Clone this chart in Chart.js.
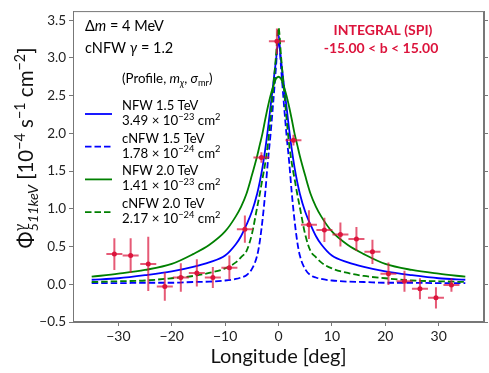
<!DOCTYPE html>
<html>
<head>
<meta charset="utf-8">
<script src="https://cdn.jsdelivr.net/npm/chart.js@4.4.1/dist/chart.umd.min.js"></script>
<style>
  html, body { margin: 0; padding: 0; background: #fff; }
  #wrap { width: 489px; height: 373px; }
</style>
</head>
<body>
<div id="wrap"><canvas id="chart" width="489" height="373"></canvas></div>
<script>
// INTEGRAL/SPI 511 keV longitude profile
const obsLon  = [-30.75, -27.7, -24.4, -21.3, -18.3, -15.3, -12.3, -9.2, -6.3, -3.2, -0.3, 2.8, 5.7, 8.6, 11.6, 14.6, 17.6, 20.6, 23.6, 26.5, 29.5, 32.4];
const obsFlux = [0.40, 0.38, 0.27, -0.03, 0.09, 0.15, 0.09, 0.22, 0.73, 1.68, 3.22, 1.91, 0.79, 0.72, 0.66, 0.60, 0.43, 0.14, 0.04, -0.06, -0.18, -0.01];
const obsErr  = [0.21, 0.23, 0.36, 0.19, 0.19, 0.18, 0.14, 0.16, 0.18, 0.07, 0.17, 0.07, 0.19, 0.16, 0.16, 0.16, 0.16, 0.15, 0.14, 0.14, 0.14, 0.09];
const binHalf = 1.5;

// model curves, sampled at modelLon
const modelLon = [-35, -30, -25, -20, -16, -13, -10, -8, -7, -6, -5, -4, -3.5, -3, -2.5, -2, -1.5, -1, -0.5, 0,
                  0.5, 1, 1.5, 2, 2.5, 3, 3.5, 4, 5, 6, 7, 8, 10, 13, 16, 20, 25, 30, 35];
const nfw15  = [0.06, 0.08, 0.12, 0.17, 0.23, 0.29, 0.38, 0.53, 0.64, 0.79, 0.96, 1.20, 1.36, 1.55, 1.78, 2.05, 2.35, 2.65, 2.95, 3.22,
                2.95, 2.65, 2.35, 2.05, 1.78, 1.55, 1.36, 1.20, 0.96, 0.79, 0.64, 0.53, 0.38, 0.29, 0.23, 0.17, 0.12, 0.08, 0.06];
const cnfw15 = [0.015, 0.015, 0.02, 0.02, 0.03, 0.035, 0.05, 0.07, 0.09, 0.12, 0.20, 0.38, 0.57, 0.85, 1.20, 1.62, 1.98, 2.40, 2.85, 3.30,
                2.85, 2.40, 1.98, 1.62, 1.20, 0.85, 0.57, 0.38, 0.20, 0.12, 0.09, 0.07, 0.05, 0.035, 0.03, 0.02, 0.02, 0.015, 0.015];
const nfw20  = [0.10, 0.14, 0.19, 0.27, 0.40, 0.52, 0.70, 0.90, 1.03, 1.20, 1.44, 1.70, 1.85, 2.00, 2.18, 2.35, 2.50, 2.62, 2.72, 2.75,
                2.72, 2.62, 2.50, 2.35, 2.18, 2.00, 1.85, 1.70, 1.44, 1.20, 1.03, 0.90, 0.70, 0.52, 0.40, 0.27, 0.19, 0.14, 0.10];
const cnfw20 = [0.03, 0.04, 0.05, 0.08, 0.11, 0.15, 0.21, 0.29, 0.36, 0.44, 0.66, 1.02, 1.20, 1.40, 1.60, 1.85, 2.20, 2.60, 3.00, 3.40,
                3.00, 2.60, 2.20, 1.85, 1.60, 1.40, 1.20, 1.02, 0.66, 0.44, 0.36, 0.29, 0.21, 0.15, 0.11, 0.08, 0.05, 0.04, 0.03];

const xTicks = [-30, -20, -10, 0, 10, 20, 30];
const yTicks = [-0.5, 0, 0.5, 1, 1.5, 2, 2.5, 3, 3.5];

const FAM = 'Lato, "DejaVu Sans", sans-serif';
const RED = '#dc143c';
const BLUE = '#0000ff';
const GREEN = '#008000';
const DASH = [6.5, 3];

const pts = (xs, ys) => xs.map((v, i) => ({ x: v, y: ys[i] }));
const minus = s => s.replace('-', '\u2212');

// draws text made of pieces: k = n (normal), i (italic), b (bold), sup/sub (+i for italic)
function drawRich(ctx, segs, x, y, size, align, color) {
  const fontFor = k => {
    const small = k.startsWith('sup') || k.startsWith('sub');
    const ital = k === 'i' || k.endsWith('i');
    const bold = k === 'b';
    return (ital ? 'italic ' : '') + (bold ? 'bold ' : '') + (small ? size * 0.7 : size) + 'px ' + FAM;
  };
  let w = 0, hold = 0;
  const pos = [];
  for (const s of segs) {
    ctx.font = fontFor(s.k);
    const sw = ctx.measureText(s.t).width;
    pos.push(w);
    if (s.keep) { hold = sw; } else { w += Math.max(sw, hold); hold = 0; }
  }
  let x0 = x;
  if (align === 'center') x0 = x - w / 2;
  if (align === 'right') x0 = x - w;
  ctx.fillStyle = color || '#000';
  ctx.textAlign = 'left';
  ctx.textBaseline = 'alphabetic';
  segs.forEach((s, i) => {
    ctx.font = fontFor(s.k);
    let dy = 0;
    if (s.k.startsWith('sup')) dy = -0.4 * size;
    if (s.k.startsWith('sub')) dy = 0.22 * size;
    ctx.fillText(s.t, x0 + pos[i], y + dy);
  });
}

const legendItems = [
  { color: BLUE,  dash: [],   l1: 'NFW 1.5 TeV',  m: '3.49', e: '\u221223' },
  { color: BLUE,  dash: DASH, l1: 'cNFW 1.5 TeV', m: '1.78', e: '\u221224' },
  { color: GREEN, dash: [],   l1: 'NFW 2.0 TeV',  m: '1.41', e: '\u221223' },
  { color: GREEN, dash: DASH, l1: 'cNFW 2.0 TeV', m: '2.17', e: '\u221224' }
];

const decorations = {
  id: 'decorations',
  beforeDatasetDraw(chart, args) {
    // error bars go under the data markers
    if (args.index !== 0) return;
    const { ctx, scales: { x, y } } = chart;
    ctx.save();
    ctx.strokeStyle = 'rgba(220,20,60,0.7)';
    ctx.lineWidth = 2;
    obsLon.forEach((lon, i) => {
      const px = x.getPixelForValue(lon);
      const py = y.getPixelForValue(obsFlux[i]);
      ctx.beginPath();
      ctx.moveTo(x.getPixelForValue(lon - binHalf), py);
      ctx.lineTo(x.getPixelForValue(lon + binHalf), py);
      ctx.moveTo(px, y.getPixelForValue(obsFlux[i] - obsErr[i]));
      ctx.lineTo(px, y.getPixelForValue(obsFlux[i] + obsErr[i]));
      ctx.stroke();
    });
    ctx.restore();
  },
  afterDraw(chart) {
    const { ctx, chartArea: a } = chart;
    ctx.save();
    // frame
    ctx.strokeStyle = '#777';
    ctx.lineWidth = 1;
    ctx.strokeRect(a.left + 0.5, a.top + 0.5, a.right - a.left - 1, a.bottom - a.top - 1);

    // axis titles
    drawRich(ctx, [{ t: 'Longitude [deg]', k: 'n' }], (a.left + a.right) / 2, 363, 20, 'center', '#111');
    ctx.save();
    ctx.translate(33, 148);
    ctx.rotate(-Math.PI / 2);
    drawRich(ctx, [
      { t: '\u03A6', k: 'n' },
      { t: '\u03B3', k: 'supi', keep: true },
      { t: '511keV', k: 'subi' },
      { t: ' [10', k: 'n' }, { t: '\u22124', k: 'sup' },
      { t: ' s', k: 'n' }, { t: '\u22121', k: 'sup' },
      { t: ' cm', k: 'n' }, { t: '\u22122', k: 'sup' },
      { t: ']', k: 'n' }
    ], 0, 0, 20.5, 'center', '#111');
    ctx.restore();

    // annotations
    drawRich(ctx, [{ t: '\u0394', k: 'n' }, { t: 'm', k: 'i' }, { t: ' = 4 MeV', k: 'n' }], 85, 31, 14.5, 'left');
    drawRich(ctx, [{ t: 'cNFW ', k: 'n' }, { t: '\u03B3', k: 'i' }, { t: ' = 1.2', k: 'n' }], 85, 53, 14.5, 'left');
    drawRich(ctx, [{ t: 'INTEGRAL (SPI)', k: 'b' }], 383, 35, 14, 'center', RED);
    drawRich(ctx, [{ t: '-15.00 < b < 15.00', k: 'b' }], 381, 53, 14, 'center', RED);

    // legend
    drawRich(ctx, [
      { t: '(Profile, ', k: 'n' }, { t: 'm', k: 'i' }, { t: '\u03C7', k: 'subi' },
      { t: ', ', k: 'n' }, { t: '\u03C3', k: 'i' }, { t: 'mr', k: 'sub' }, { t: ')', k: 'n' }
    ], 122, 83, 13.3, 'left');
    legendItems.forEach((it, i) => {
      const base = 110 + i * 32.7;
      ctx.strokeStyle = it.color;
      ctx.lineWidth = 1.8;
      ctx.setLineDash(it.dash);
      ctx.beginPath();
      ctx.moveTo(85, base + 4);
      ctx.lineTo(112, base + 4);
      ctx.stroke();
      ctx.setLineDash([]);
      drawRich(ctx, [{ t: it.l1, k: 'n' }], 122, base, 13, 'left');
      drawRich(ctx, [{ t: it.m + ' \u00D7 10', k: 'n' }, { t: it.e, k: 'sup' }, { t: ' cm', k: 'n' }, { t: '2', k: 'sup' }],
        122, base + 15, 13.3, 'left');
    });
    ctx.restore();
  }
};

const lineDs = (label, ys, color, dash, order) => ({
  label, data: pts(modelLon, ys), showLine: true, borderColor: color, backgroundColor: color,
  borderWidth: 1.8, borderDash: dash, pointRadius: 0, cubicInterpolationMode: 'monotone', order
});

new Chart(document.getElementById('chart'), {
  type: 'scatter',
  data: {
    datasets: [
      { label: 'INTEGRAL (SPI)', data: pts(obsLon, obsFlux), pointRadius: 2.5, pointBackgroundColor: RED,
        pointBorderColor: RED, pointBorderWidth: 0, showLine: false, order: 0 },
      lineDs('NFW 1.5 TeV', nfw15, BLUE, [], 4),
      lineDs('cNFW 1.5 TeV', cnfw15, BLUE, DASH, 3),
      lineDs('NFW 2.0 TeV', nfw20, GREEN, [], 2),
      lineDs('cNFW 2.0 TeV', cnfw20, GREEN, DASH, 1)
    ]
  },
  options: {
    responsive: false,
    animation: false,
    devicePixelRatio: 1,
    layout: { padding: { top: 5, left: 0, right: 0, bottom: 0 } },
    plugins: { legend: { display: false }, tooltip: { enabled: false } },
    scales: {
      x: {
        type: 'linear', min: -38.5, max: 38.5,
        afterBuildTicks: s => { s.ticks = xTicks.map(v => ({ value: v })); },
        afterFit: s => { s.height = 51; },
        grid: { drawOnChartArea: false, drawTicks: true, tickLength: 4, color: '#777' },
        border: { color: '#777' },
        ticks: { padding: 2, color: '#222', font: { family: FAM, size: 14 }, maxRotation: 0,
                 callback: v => minus(String(v)) }
      },
      y: {
        type: 'linear', position: 'left', min: -0.5, max: 3.62,
        afterBuildTicks: s => { s.ticks = yTicks.map(v => ({ value: v })); },
        afterFit: s => { s.width = 73; },
        grid: { drawOnChartArea: false, drawTicks: true, tickLength: 4, color: '#777' },
        border: { color: '#777' },
        ticks: { padding: 3, color: '#222', font: { family: FAM, size: 13.5 },
                 callback: v => minus(Number(v).toFixed(1)) }
      },
      y2: {
        type: 'linear', position: 'right', min: -0.5, max: 3.62,
        afterBuildTicks: s => { s.ticks = yTicks.map(v => ({ value: v })); },
        afterFit: s => { s.width = 5; },
        grid: { drawOnChartArea: false, drawTicks: true, tickLength: 4, color: '#777' },
        border: { color: '#777' },
        ticks: { padding: 0, font: { size: 1 }, callback: () => '' }
      }
    }
  },
  plugins: [decorations]
});
</script>
</body>
</html>
